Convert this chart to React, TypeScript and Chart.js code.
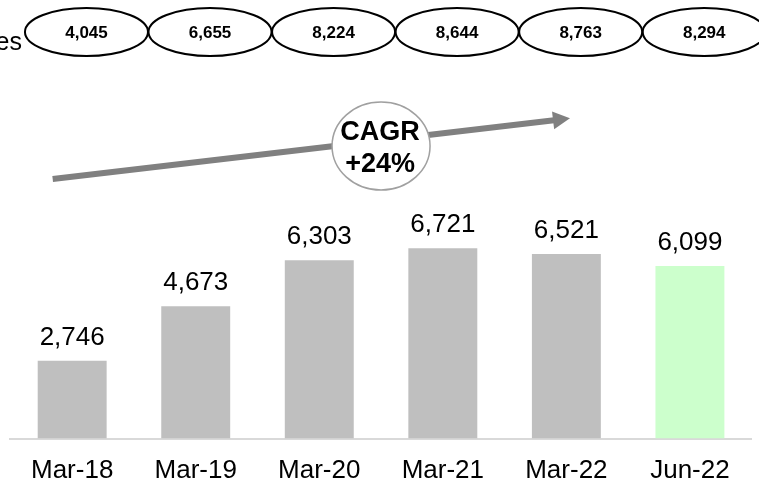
import { useEffect, useRef } from "react";
import { Chart, registerables } from "chart.js";

Chart.register(...registerables);

const categories = ["Mar-18", "Mar-19", "Mar-20", "Mar-21", "Mar-22", "Jun-22"];
const barValues = [2746, 4673, 6303, 6721, 6521, 6099];
const barColors = ["#bfbfbf", "#bfbfbf", "#bfbfbf", "#bfbfbf", "#bfbfbf", "#ccffcc"];
const topRowValues = [4045, 6655, 8224, 8644, 8763, 8294];
const topRowLabel = "es";
const cagrLines = ["CAGR", "+24%"];

const FONT = "'Liberation Sans', Arial, sans-serif";
const fmt = (v: number) => v.toLocaleString("en-US");

const overlayPlugin = {
  id: "overlay",
  afterDraw(chart: any) {
    const ctx = chart.ctx as CanvasRenderingContext2D;
    const xs = chart.scales.x;
    const ys = chart.scales.y;
    ctx.save();

    // value labels above bars
    const meta = chart.getDatasetMeta(0);
    ctx.fillStyle = "#000";
    ctx.font = `26px ${FONT}`;
    ctx.textAlign = "center";
    ctx.textBaseline = "alphabetic";
    meta.data.forEach((bar: any, i: number) => {
      ctx.fillText(fmt(barValues[i]), bar.x, bar.y - 16);
    });

    // top row ellipses
    ctx.lineWidth = 2;
    ctx.strokeStyle = "#000";
    topRowValues.forEach((v, i) => {
      const cx = xs.getPixelForValue(i) + 14.3;
      const cy = 32;
      ctx.beginPath();
      ctx.ellipse(cx, cy, 61.5, 24, 0, 0, Math.PI * 2);
      ctx.stroke();
    });
    ctx.font = `bold 17px ${FONT}`;
    topRowValues.forEach((v, i) => {
      const cx = xs.getPixelForValue(i) + 14.3;
      ctx.fillText(fmt(v), cx, 37.5);
    });

    // row label (clipped at left edge)
    ctx.font = `25px ${FONT}`;
    ctx.textAlign = "right";
    ctx.fillText(topRowLabel, 22, 49.5);

    // CAGR arrow
    const x0 = xs.getPixelForValue(0) - 19.5;
    const y0 = ys.getPixelForValue(9170);
    const x1 = xs.getPixelForValue(4) + 3.6;
    const y1 = ys.getPixelForValue(11313);
    const ang = Math.atan2(y1 - y0, x1 - x0);
    const headLen = 17;
    const headHalf = 9;
    const bx = x1 - headLen * Math.cos(ang);
    const by = y1 - headLen * Math.sin(ang);
    ctx.strokeStyle = "#808080";
    ctx.fillStyle = "#808080";
    ctx.lineWidth = 6;
    ctx.beginPath();
    ctx.moveTo(x0, y0);
    ctx.lineTo(bx + Math.cos(ang), by + Math.sin(ang));
    ctx.stroke();
    ctx.beginPath();
    ctx.moveTo(x1, y1);
    ctx.lineTo(bx + headHalf * Math.sin(ang), by - headHalf * Math.cos(ang));
    ctx.lineTo(bx - headHalf * Math.sin(ang), by + headHalf * Math.cos(ang));
    ctx.closePath();
    ctx.fill();

    // CAGR bubble
    const ccx = (xs.getPixelForValue(2) + xs.getPixelForValue(3)) / 2;
    const ccy = 146;
    ctx.beginPath();
    ctx.ellipse(ccx, ccy, 49, 44, 0, 0, Math.PI * 2);
    ctx.fillStyle = "#fff";
    ctx.fill();
    ctx.lineWidth = 1.5;
    ctx.strokeStyle = "#a0a0a0";
    ctx.stroke();
    ctx.fillStyle = "#000";
    ctx.font = `bold 27px ${FONT}`;
    ctx.textAlign = "center";
    ctx.fillText(cagrLines[0], ccx - 1, 140);
    ctx.fillText(cagrLines[1], ccx - 1, 172);

    ctx.restore();
  },
};

export default function App() {
  const ref = useRef<HTMLCanvasElement | null>(null);

  useEffect(() => {
    if (!ref.current) return;
    const chart = new Chart(ref.current, {
      type: "bar",
      data: {
        labels: categories,
        datasets: [
          {
            data: barValues,
            backgroundColor: barColors,
            borderWidth: 0,
            categoryPercentage: 1,
            barPercentage: 0.558,
          },
        ],
      },
      options: {
        animation: false,
        responsive: false,
        maintainAspectRatio: false,
        events: [],
        layout: { padding: { top: 155.5, left: 10.4, right: 7.3, bottom: 0 } },
        plugins: {
          legend: { display: false },
          tooltip: { enabled: false },
          title: { display: false },
        },
        scales: {
          y: { display: false, min: 0, max: 10000 },
          x: {
            grid: { display: false, drawTicks: false },
            border: { display: true, color: "#d9d9d9", width: 2 },
            ticks: {
              color: "#000",
              padding: 17,
              font: { family: FONT, size: 26 },
              maxRotation: 0,
              autoSkip: false,
            },
            afterFit: (scale: any) => {
              scale.height = 44.5;
            },
          },
        },
      },
      plugins: [overlayPlugin],
    });
    return () => chart.destroy();
  }, []);

  return (
    <div style={{ position: "fixed", left: 0, top: 0, width: 759, height: 483, background: "#fff" }}>
      <canvas ref={ref} width={759} height={483} style={{ width: 759, height: 483 }} />
    </div>
  );
}
